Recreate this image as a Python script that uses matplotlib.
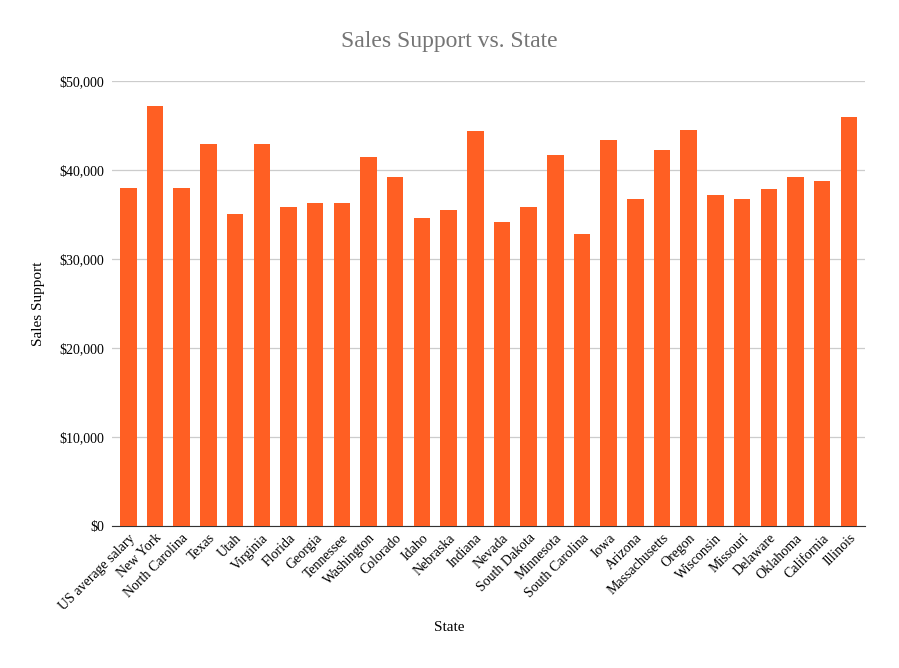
import matplotlib.pyplot as plt
from matplotlib.ticker import FuncFormatter

states = ["US average salary", "New York", "North Carolina", "Texas", "Utah", "Virginia",
          "Florida", "Georgia", "Tennessee", "Washington", "Colorado", "Idaho", "Nebraska",
          "Indiana", "Nevada", "South Dakota", "Minnesota", "South Carolina", "Iowa",
          "Arizona", "Massachusetts", "Oregon", "Wisconsin", "Missouri", "Delaware",
          "Oklahoma", "California", "Illinois"]
support = [38000, 47200, 38000, 42950, 35070, 42950, 35850, 36300, 36300, 41500, 39200,
           34600, 35500, 44400, 34200, 35850, 41700, 32800, 43400, 36750, 42300, 44500,
           37200, 36750, 37900, 39200, 38800, 46000]

plt.rcParams['font.family'] = ['Liberation Serif', 'DejaVu Serif']

fig = plt.figure(figsize=(8.99, 6.68), dpi=100)
ax = fig.add_axes([0.125, 0.2126, 0.837, 0.666])
ax.bar(range(len(states)), support, width=0.62, color="#ff5f23", zorder=3)

ax.set_ylim(0, 50000)
ax.set_xlim(-0.6, len(states) - 0.4)
ax.set_yticks(range(0, 50001, 10000))
ax.yaxis.set_major_formatter(FuncFormatter(lambda v, p: "${:,.0f}".format(v)))
ax.grid(axis="y", color="#cccccc", linewidth=0.9, zorder=0)
ax.set_xticks(range(len(states)))
ax.set_xticklabels(states, rotation=45, ha="right", rotation_mode="anchor", fontsize=10)
ax.tick_params(axis="y", labelsize=10, length=0, pad=6)
ax.tick_params(axis="x", length=0, pad=4)
for s in ["top", "right", "left"]:
    ax.spines[s].set_visible(False)
ax.spines["bottom"].set_color("#333333")

ax.set_ylabel("Sales Support", fontsize=11, labelpad=10)
fig.text(0.5, 0.055, "State", ha="center", fontsize=11)
fig.text(0.5, 0.93, "Sales Support vs. State", ha="center", fontsize=17, color="#757575")

fig.savefig("out.png", dpi=100)
